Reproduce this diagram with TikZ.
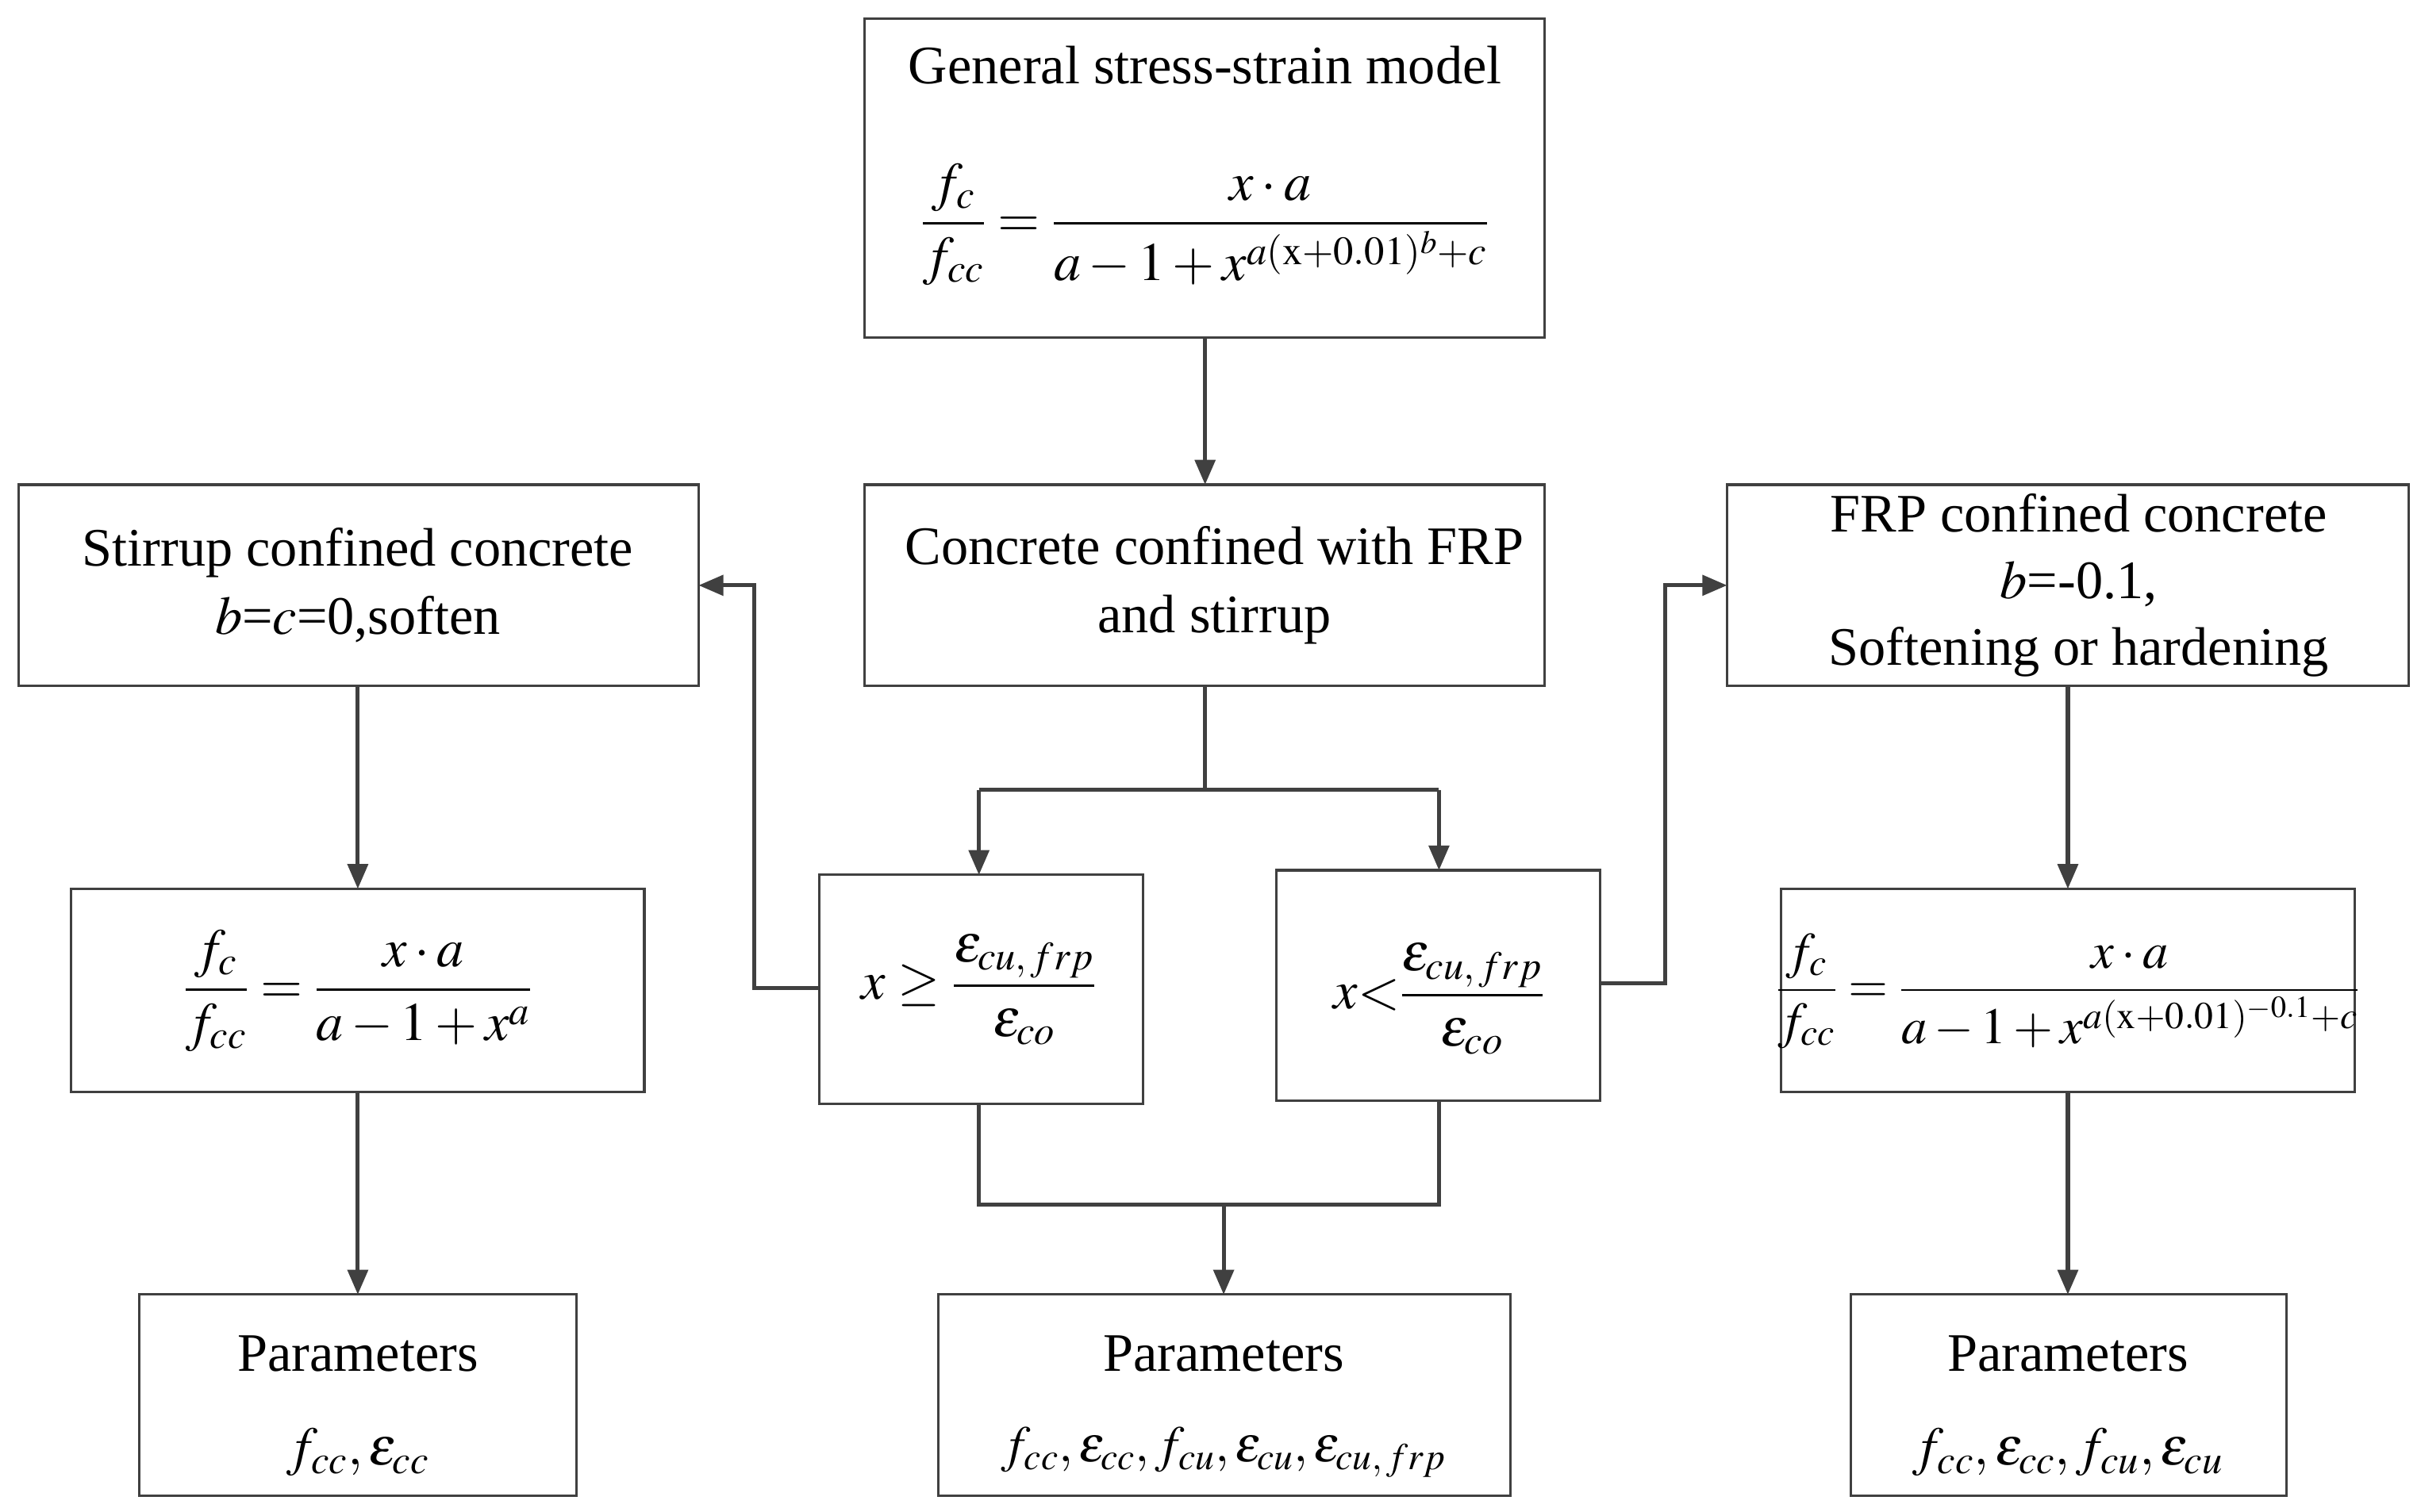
\documentclass[tikz,border=0pt]{standalone}
\usepackage{mathptmx}
\usepackage{fontspec}
\setmainfont{Liberation Serif}
\usetikzlibrary{arrows.meta}
\begin{document}
\begin{tikzpicture}[x=1pt,y=-1pt,
  box/.style={draw=black!75,line width=1.6pt,inner sep=0pt},
  ln/.style={draw=black!75,line width=2.6pt},
  ar/.style={ln,-{Triangle[length=16pt,width=13pt]}},
  txt/.style={align=center,inner sep=1pt,font=\fontsize{35}{44}\selectfont}]
\useasboundingbox (0,0) rectangle (1563,976);
\newcommand\bx[5]{\draw[box] (#2,#3) rectangle (#4,#5); \coordinate (#1) at ({(#2+#4)/2},{(#3+#5)/2});}
\bx{A}{558}{12}{997}{218}
\bx{B}{558}{313}{997}{443}
\bx{L}{12}{313}{451}{443}
\bx{R}{1115}{313}{1555}{443}
\bx{C1}{529}{565}{738}{713}
\bx{C2}{824}{562}{1033}{711}
\bx{LF}{46}{574}{416}{705}
\bx{RF}{1150}{574}{1520}{705}
\bx{PL}{90}{836}{372}{966}
\bx{PC}{606}{836}{975}{966}
\bx{PR}{1195}{836}{1476}{966}
% texts
\node[txt] (tA) at (778,42) {General stress-strain model};
\node[txt] (fA) at (778,145) {$\displaystyle\frac{f_c}{f_{cc}}=\frac{x\cdot a}{a-1+x^{a(\mathrm{x}+0.01)^{b}+c}}$};
\node[txt] (tB) at (784,378) {Concrete confined with FRP\\and stirrup};
\node[txt] (tL) at (231,378) {Stirrup confined concrete\\$b$=$c$=0,soften};
\node[txt,font=\fontsize{35}{43}\selectfont] (tR) at (1342,378) {FRP confined concrete\\$b$=-0.1,\\Softening or hardening};
\node[txt] (tC1) at (632,639) {$\displaystyle x\geq\frac{\varepsilon_{cu,\,frp}}{\varepsilon_{co}}$};
\node[txt] (tC2) at (929,645) {$\displaystyle x{<}\frac{\varepsilon_{cu,\,frp}}{\varepsilon_{co}}$};
\node[txt] (tLF) at (231,640) {$\displaystyle\frac{f_c}{f_{cc}}=\frac{x\cdot a}{a-1+x^{a}}$};
\node[txt,font=\fontsize{33}{44}\selectfont] (tRF) at (1335,640) {$\displaystyle\frac{f_c}{f_{cc}}=\frac{x\cdot a}{a-1+x^{a(\mathrm{x}+0.01)^{-0.1}+c}}$};
\node[txt] (pL) at (231,874) {Parameters};
\node[txt] (qL) at (231,938) {$f_{cc},\varepsilon_{cc}$};
\node[txt] (pC) at (790,874) {Parameters};
\node[txt,font=\fontsize{33}{44}\selectfont] (qC) at (790,938) {$f_{cc},\varepsilon_{cc},f_{cu},\varepsilon_{cu},\varepsilon_{cu,\,frp}$};
\node[txt] (pR) at (1335,874) {Parameters};
\node[txt] (qR) at (1335,938) {$f_{cc},\varepsilon_{cc},f_{cu},\varepsilon_{cu}$};
% connectors
\draw[ar] (778,218) -- (778,313);
\draw[ln] (778,443) -- (778,510);
\draw[ar] (632,510) -- (632,565);
\draw[ar] (929,510) -- (929,562);
\draw[ln] (632,510) -- (929,510);
\draw[ar] (529,638) -- (487,638) -- (487,378) -- (451,378);
\draw[ar] (1033,635) -- (1075,635) -- (1075,378) -- (1115,378);
\draw[ar] (231,443) -- (231,574);
\draw[ar] (231,705) -- (231,836);
\draw[ar] (1335,443) -- (1335,574);
\draw[ar] (1335,705) -- (1335,836);
\draw[ln] (632,713) -- (632,778) -- (929,778) -- (929,711);
\draw[ar] (790,778) -- (790,836);
\end{tikzpicture}
\end{document}
